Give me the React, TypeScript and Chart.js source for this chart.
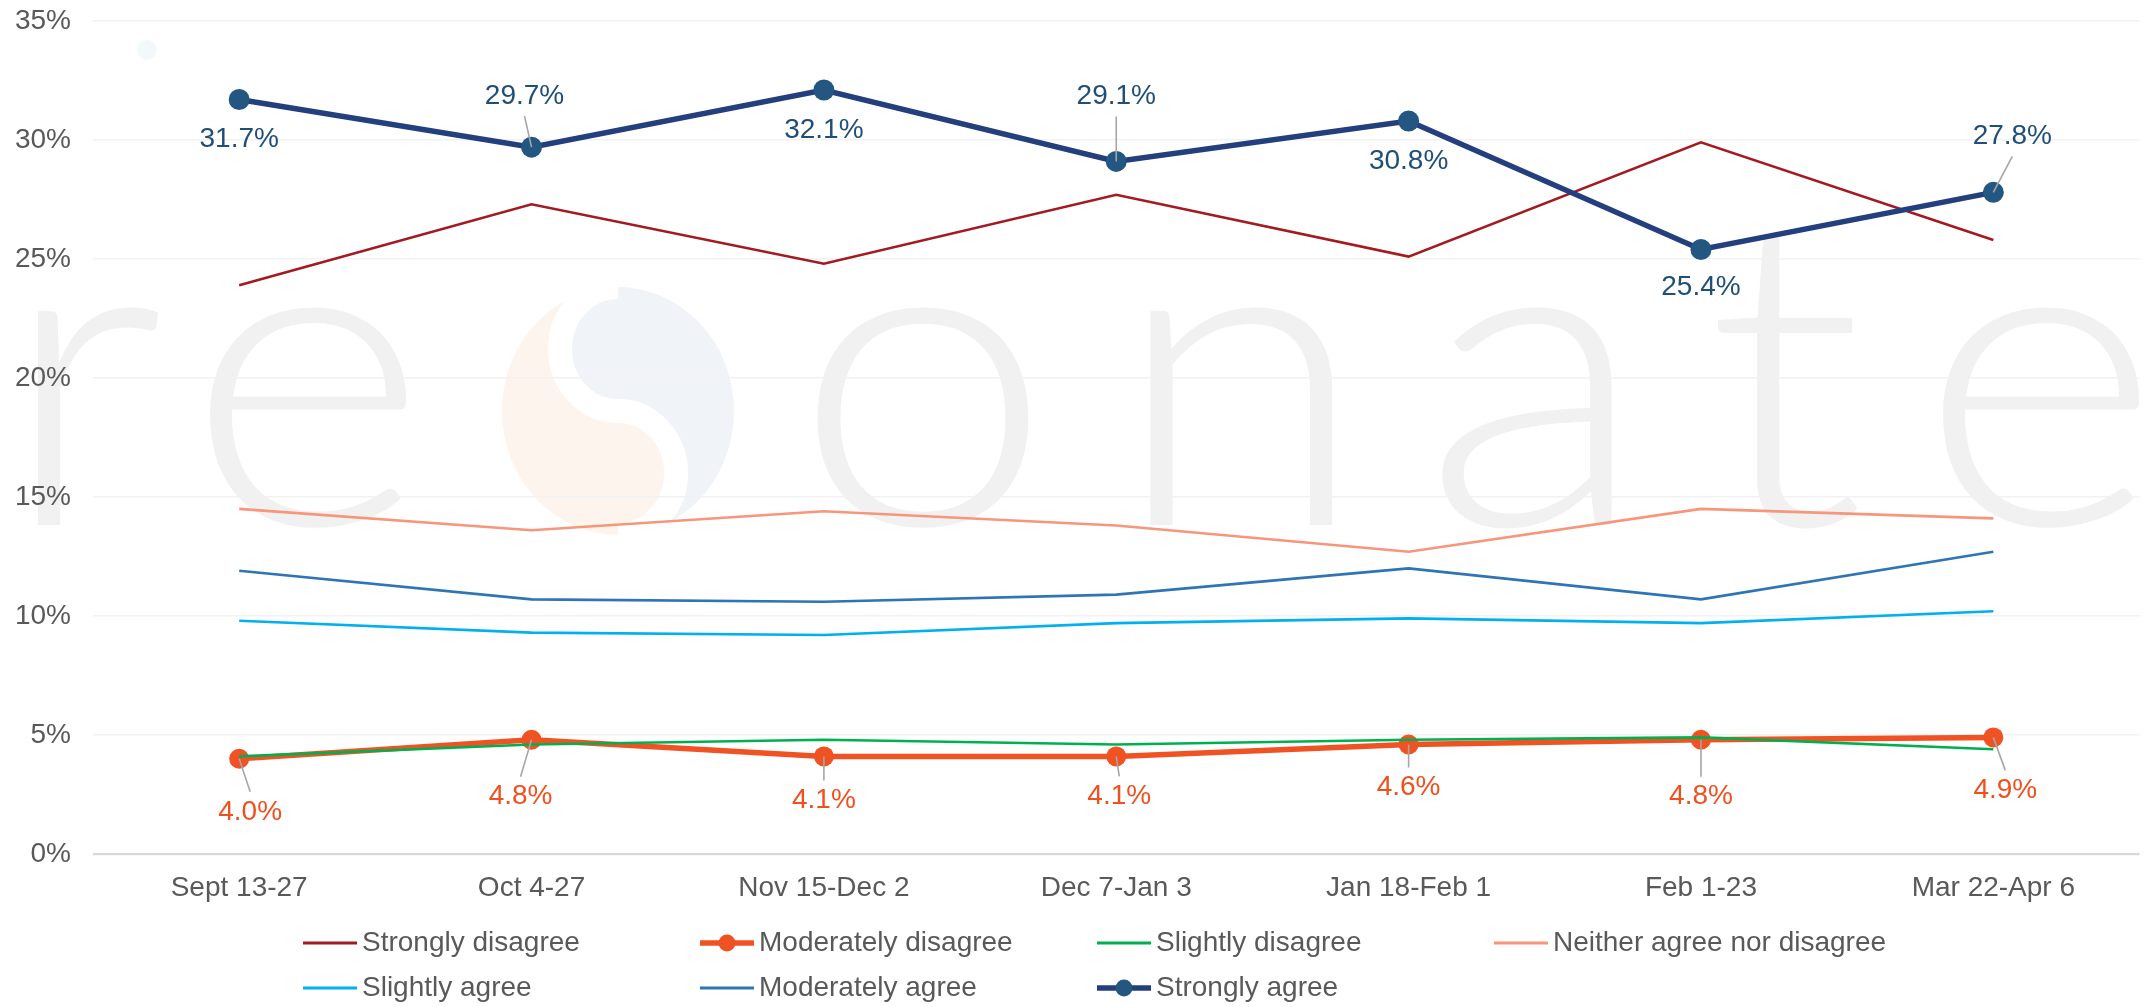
import React, { useEffect, useRef } from 'react';
import { Chart, registerables } from 'chart.js';

Chart.register(...registerables);

// ---------------- DATA ----------------
const categories = ['Sept 13-27', 'Oct 4-27', 'Nov 15-Dec 2', 'Dec 7-Jan 3', 'Jan 18-Feb 1', 'Feb 1-23', 'Mar 22-Apr 6'];
const stronglyDisagree = [23.9, 27.3, 24.8, 27.7, 25.1, 29.9, 25.8];
const moderatelyDisagree = [4.0, 4.8, 4.1, 4.1, 4.6, 4.8, 4.9];
const slightlyDisagree = [4.1, 4.6, 4.8, 4.6, 4.8, 4.9, 4.4];
const neitherAgree = [14.5, 13.6, 14.4, 13.8, 12.7, 14.5, 14.1];
const slightlyAgree = [9.8, 9.3, 9.2, 9.7, 9.9, 9.7, 10.2];
const moderatelyAgree = [11.9, 10.7, 10.6, 10.9, 12.0, 10.7, 12.7];
const stronglyAgree = [31.7, 29.7, 32.1, 29.1, 30.8, 25.4, 27.8];
const seriesNames = [
  'Strongly disagree',
  'Moderately disagree',
  'Slightly disagree',
  'Neither agree nor disagree',
  'Slightly agree',
  'Moderately agree',
  'Strongly agree',
];
const yTicks = [0, 5, 10, 15, 20, 25, 30, 35];

// ---------------- STYLE ----------------
const FONT = '"Liberation Sans", Arial, sans-serif';
const TEXT_COLOR = '#595959';
const seriesColors = ['#A31A20', '#F05223', '#00B050', '#F7967B', '#00B0F0', '#2E75B6', '#243F7E'];
const pointColors = ['#A31A20', '#F05223', '#00B050', '#F7967B', '#00B0F0', '#2E75B6', '#235680'];
const seriesWidths = [2.6, 5.5, 2.6, 2.6, 2.6, 2.6, 5.5];
const seriesPointRadius = [0, 10, 0, 0, 0, 0, 10.5];
const labelColors: Record<number, string> = { 1: '#F0501E', 6: '#1F4E79' };
// label offsets [dx, dy, leader]
const labelOffsets: Record<number, [number, number, boolean][]> = {
  6: [[0, 40, false], [-7, -51, true], [0, 40, false], [0, -65, true], [0, 40, false], [0, 38, false], [19, -56, true]],
  1: [[11, 53, true], [-11, 57, true], [0, 44, true], [3, 40, true], [0, 43, true], [0, 57, true], [12, 53, true]],
};

const W = 2150;
const H = 1007;

const watermarkPlugin = {
  id: 'watermark',
  beforeDraw(chart: any) {
    const ctx = chart.ctx as CanvasRenderingContext2D;
    ctx.save();
    ctx.fillStyle = '#ffffff';
    ctx.fillRect(0, 0, chart.width, chart.height);
    // tiny faint dot
    ctx.fillStyle = '#F3F8FB';
    ctx.beginPath();
    ctx.arc(147, 50, 10, 0, Math.PI * 2);
    ctx.fill();
    // letters
    ctx.fillStyle = '#F1F1F1';
    ctx.font = '300 430px "Lato Light", Lato, "Open Sans Light", "Open Sans", sans-serif';
    ctx.textAlign = 'center';
    ctx.textBaseline = 'alphabetic';
    const letters: [string, number][] = [['r', 82], ['e', 307], ['o', 923], ['n', 1240], ['a', 1535], ['t', 1785], ['e', 2040]];
    letters.forEach(([ch, x]) => {
      ctx.save();
      ctx.translate(x, 525);
      ctx.scale(1.08, 1);
      ctx.fillText(ch, 0, 0);
      ctx.restore();
    });
    // logo "s"
    const cx = 618, cy = 411, rx = 116, ry = 124;
    const orange = () => {
      ctx.beginPath();
      ctx.moveTo(cx, cy - ry);
      ctx.ellipse(cx, cy, rx, ry, 0, -Math.PI / 2, Math.PI / 2, true);
      ctx.ellipse(cx, cy + ry / 2, rx / 2, ry / 2, 0, Math.PI / 2, -Math.PI / 2, true);
      ctx.ellipse(cx, cy - ry / 2, rx / 2, ry / 2, 0, Math.PI / 2, (3 * Math.PI) / 2, false);
      ctx.closePath();
    };
    const blue = () => {
      ctx.beginPath();
      ctx.moveTo(cx, cy - ry);
      ctx.ellipse(cx, cy, rx, ry, 0, -Math.PI / 2, Math.PI / 2, false);
      ctx.ellipse(cx, cy + ry / 2, rx / 2, ry / 2, 0, Math.PI / 2, -Math.PI / 2, true);
      ctx.ellipse(cx, cy - ry / 2, rx / 2, ry / 2, 0, Math.PI / 2, (3 * Math.PI) / 2, false);
      ctx.closePath();
    };
    orange();
    ctx.fillStyle = '#FDF4EE';
    ctx.fill();
    blue();
    ctx.fillStyle = '#F0F4F9';
    ctx.fill();
    ctx.beginPath();
    ctx.moveTo(cx, cy + ry);
    ctx.ellipse(cx, cy + ry / 2, rx / 2, ry / 2, 0, Math.PI / 2, -Math.PI / 2, true);
    ctx.ellipse(cx, cy - ry / 2, rx / 2, ry / 2, 0, Math.PI / 2, (3 * Math.PI) / 2, false);
    ctx.strokeStyle = '#ffffff';
    ctx.lineWidth = 24;
    ctx.stroke();
    ctx.restore();
  },
};

const labelPlugin = {
  id: 'pointLabels',
  afterDatasetsDraw(chart: any) {
    const ctx = chart.ctx as CanvasRenderingContext2D;
    ctx.save();
    ctx.font = `28px ${FONT}`;
    ctx.textAlign = 'center';
    ctx.textBaseline = 'middle';
    Object.keys(labelOffsets).forEach((k) => {
      const di = Number(k);
      const meta = chart.getDatasetMeta(di);
      const values = chart.data.datasets[di].data as number[];
      meta.data.forEach((pt: any, i: number) => {
        const [dx, dy, leader] = labelOffsets[di][i];
        const lx = pt.x + dx;
        const ly = pt.y + dy;
        if (leader) {
          ctx.strokeStyle = '#A6A6A6';
          ctx.lineWidth = 1.6;
          ctx.beginPath();
          ctx.moveTo(pt.x, pt.y);
          ctx.lineTo(lx, dy > 0 ? ly - 20 : ly + 20);
          ctx.stroke();
        }
        ctx.fillStyle = labelColors[di];
        ctx.fillText(values[i].toFixed(1) + '%', lx, ly);
      });
    });
    ctx.restore();
  },
};

const legendPlugin = {
  id: 'gridLegend',
  afterDraw(chart: any) {
    const ctx = chart.ctx as CanvasRenderingContext2D;
    ctx.save();
    ctx.font = `28px ${FONT}`;
    ctx.textBaseline = 'middle';
    ctx.textAlign = 'left';
    const colStart = 303;
    const colW = 397;
    const rows = [943, 988];
    const lineLen = 54;
    chart.data.datasets.forEach((ds: any, i: number) => {
      const col = i % 4;
      const row = Math.floor(i / 4);
      const x = colStart + col * colW;
      const y = rows[row];
      const thick = seriesPointRadius[i] > 0;
      ctx.strokeStyle = seriesColors[i];
      ctx.lineWidth = thick ? 5.5 : 3;
      ctx.beginPath();
      ctx.moveTo(x, y);
      ctx.lineTo(x + lineLen, y);
      ctx.stroke();
      if (thick) {
        ctx.fillStyle = pointColors[i];
        ctx.beginPath();
        ctx.arc(x + lineLen / 2, y, 8.5, 0, Math.PI * 2);
        ctx.fill();
      }
      ctx.fillStyle = TEXT_COLOR;
      ctx.fillText(ds.label, x + lineLen + 5, y);
    });
    ctx.restore();
  },
};

export default function App() {
  const ref = useRef<HTMLCanvasElement | null>(null);

  useEffect(() => {
    if (!ref.current) return;
    const seriesData = [stronglyDisagree, moderatelyDisagree, slightlyDisagree, neitherAgree, slightlyAgree, moderatelyAgree, stronglyAgree];
    const datasets = seriesData.map((d, i) => ({
      label: seriesNames[i],
      data: d,
      borderColor: seriesColors[i],
      backgroundColor: pointColors[i],
      borderWidth: seriesWidths[i],
      pointRadius: seriesPointRadius[i],
      pointBackgroundColor: pointColors[i],
      pointBorderWidth: 0,
      pointHoverRadius: seriesPointRadius[i],
      tension: 0,
      fill: false,
      order: seriesData.length - i,
      borderJoinStyle: 'miter' as const,
    }));

    const chart = new Chart(ref.current, {
      type: 'line',
      data: { labels: categories, datasets },
      plugins: [watermarkPlugin, labelPlugin, legendPlugin],
      options: {
        responsive: false,
        animation: false,
        devicePixelRatio: 1,
        layout: { padding: { left: 0, right: 0, top: 21, bottom: 93 } },
        plugins: { legend: { display: false }, tooltip: { enabled: false } },
        scales: {
          x: {
            offset: true,
            grid: { display: false, drawTicks: false },
            border: { display: false },
            ticks: { font: { size: 28, family: FONT }, color: TEXT_COLOR, padding: 17, maxRotation: 0, autoSkip: false },
            afterFit: (s: any) => {
              s.height = 60;
              s.paddingLeft = 0;
              s.paddingRight = 0;
            },
          },
          y: {
            min: 0,
            max: 35,
            afterBuildTicks: (s: any) => {
              s.ticks = yTicks.map((v) => ({ value: v }));
            },
            ticks: {
              font: { size: 28, family: FONT },
              color: TEXT_COLOR,
              padding: 22,
              callback: (v: any) => v + '%',
            },
            grid: {
              drawTicks: false,
              color: (c: any) => (c.tick && c.tick.value === 0 ? '#D9D9D9' : '#F2F2F2'),
              lineWidth: (c: any) => (c.tick && c.tick.value === 0 ? 2.2 : 1.5),
            },
            border: { display: false },
            afterFit: (s: any) => {
              s.width = 93;
              s.paddingTop = 0;
              s.paddingBottom = 0;
            },
          },
        },
      },
    });
    return () => chart.destroy();
  }, []);

  return (
    <div style={{ position: 'fixed', left: 0, top: 0, width: W, height: H, background: '#fff' }}>
      <canvas ref={ref} width={W} height={H} style={{ display: 'block', width: W, height: H }} />
    </div>
  );
}
